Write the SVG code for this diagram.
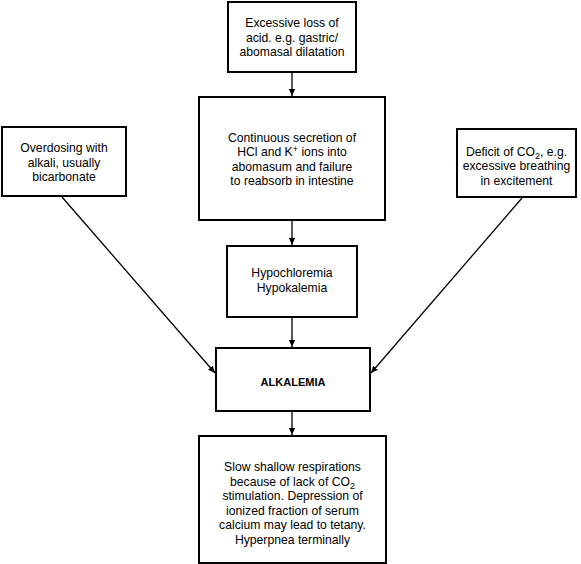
<svg xmlns="http://www.w3.org/2000/svg" width="581" height="564" viewBox="0 0 581 564">
<style>
.box{fill:#fff;stroke:#000;stroke-width:2}
.t{font-family:"Liberation Sans",Arial,sans-serif;font-size:12.2px;fill:#000;text-anchor:middle}
.b{font-weight:bold;font-size:11px}
.s{font-size:9px}
.c{stroke:#000;stroke-width:1.3;fill:none}
</style>
<defs>
<marker id="ah" viewBox="0 0 10 10" refX="10" refY="5" markerWidth="7" markerHeight="7" markerUnits="userSpaceOnUse" orient="auto">
<path d="M0,0.5 L10,5 L0,9.5 Z" fill="#000"/>
</marker>
</defs>
<rect width="581" height="564" fill="#fff"/>
<g id="connectors">
<line class="c" x1="292" y1="72" x2="292" y2="96" marker-end="url(#ah)"/>
<line class="c" x1="292" y1="220" x2="292" y2="245" marker-end="url(#ah)"/>
<line class="c" x1="292" y1="318" x2="292" y2="347" marker-end="url(#ah)"/>
<line class="c" x1="292" y1="411" x2="292" y2="435" marker-end="url(#ah)"/>
<line class="c" x1="62" y1="197" x2="215" y2="373" marker-end="url(#ah)"/>
<line class="c" x1="522" y1="198" x2="371" y2="373" marker-end="url(#ah)"/>
</g>
<g id="n1">
<rect class="box" x="228" y="2" width="128" height="70"/>
<text class="t" x="292" y="27">Excessive loss of</text>
<text class="t" x="292" y="41.5">acid. e.g. gastric/</text>
<text class="t" x="292" y="56">abomasal dilatation</text>
</g>
<g id="n2">
<rect class="box" x="199" y="97" width="186" height="123"/>
<text class="t" x="292" y="141.5">Continuous secretion of</text>
<text class="t" x="292" y="156">HCl and K<tspan class="s" dy="-4">+</tspan><tspan dy="4"> ions into</tspan></text>
<text class="t" x="292" y="170.5">abomasum and failure</text>
<text class="t" x="292" y="185">to reabsorb in intestine</text>
</g>
<g id="n3">
<rect class="box" x="2" y="127" width="124" height="69"/>
<text class="t" x="64" y="152">Overdosing with</text>
<text class="t" x="64" y="166.5">alkali, usually</text>
<text class="t" x="64" y="181">bicarbonate</text>
</g>
<g id="n4">
<rect class="box" x="457" y="129" width="119" height="68"/>
<text class="t" x="516.5" y="155.5">Deficit of CO<tspan class="s" dy="3">2</tspan><tspan dy="-3">, e.g.</tspan></text>
<text class="t" x="516.5" y="170">excessive breathing</text>
<text class="t" x="516.5" y="184.5">in excitement</text>
</g>
<g id="n5">
<rect class="box" x="227" y="246" width="130" height="71"/>
<text class="t" x="292" y="277">Hypochloremia</text>
<text class="t" x="292" y="292">Hypokalemia</text>
</g>
<g id="n6">
<rect class="box" x="216" y="348" width="154" height="63"/>
<text class="t b" x="293" y="386">ALKALEMIA</text>
</g>
<g id="n7">
<rect class="box" x="199" y="436" width="187" height="127"/>
<text class="t" x="292.5" y="471">Slow shallow respirations</text>
<text class="t" x="292.5" y="485.5">because of lack of CO<tspan class="s" dy="3">2</tspan></text>
<text class="t" x="292.5" y="500">stimulation. Depression of</text>
<text class="t" x="292.5" y="514.5">ionized fraction of serum</text>
<text class="t" x="292.5" y="529">calcium may lead to tetany.</text>
<text class="t" x="292.5" y="543.5">Hyperpnea terminally</text>
</g>
</svg>
